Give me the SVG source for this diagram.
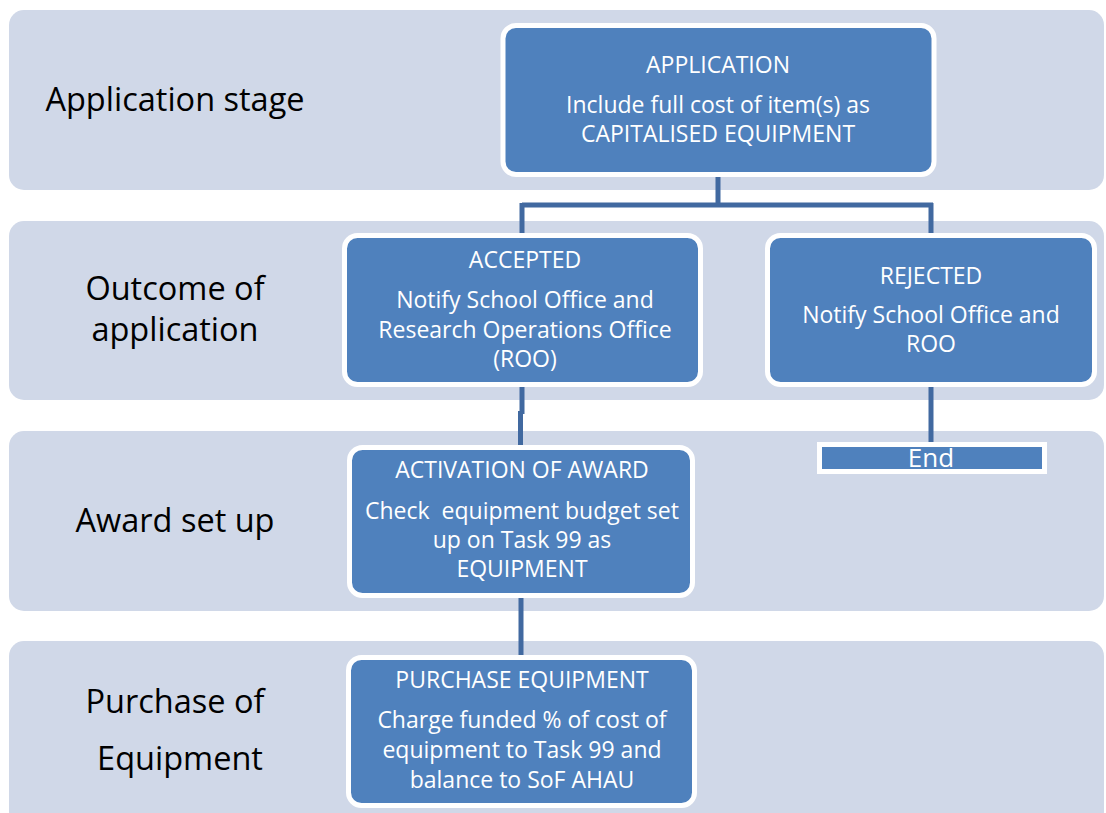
<svg xmlns="http://www.w3.org/2000/svg" width="1106" height="813" viewBox="0 0 1106 813">
<style>
.band{fill:#d0d8e8}
.lbl{font-family:"Open Sans",sans-serif;font-size:32.5px;fill:#000;text-anchor:middle}
.box{fill:#4f81bd;stroke:#fff;stroke-width:5}
.t{font-family:"Open Sans",sans-serif;font-size:23px;fill:#fff;text-anchor:middle}
.conn{fill:none;stroke:#4169a0;stroke-width:5}
</style>
<rect width="1106" height="813" fill="#fff"/>
<g id="lanes">
<rect class="band" x="9" y="10" width="1095" height="180" rx="15"/>
<rect class="band" x="9" y="221" width="1095" height="179" rx="15"/>
<rect class="band" x="9" y="431" width="1095" height="180" rx="15"/>
<rect class="band" x="9" y="641" width="1095" height="185" rx="15"/>
<text class="lbl" x="175" y="111">Application stage</text>
<text class="lbl" x="175" y="300">Outcome of</text>
<text class="lbl" x="175" y="341">application</text>
<text class="lbl" x="175" y="532">Award set up</text>
<text class="lbl" x="175" y="713">Purchase of</text>
<text class="lbl" x="180" y="770">Equipment</text>
</g>
<g id="connectors">
<path class="conn" d="M718,177 V205 M522,205 H933 M522,203 V234 M931,203 V234"/>
<path class="conn" d="M522,387 V414 M520.5,411 V446"/>
<path class="conn" d="M931,387 V443"/>
<path class="conn" d="M521,598 V656"/>
</g>
<g id="application">
<rect class="box" x="503" y="25.5" width="431" height="149" rx="13"/>
<text class="t" x="718" y="73">APPLICATION</text>
<text class="t" x="718" y="113">Include full cost of item(s) as</text>
<text class="t" x="718" y="142">CAPITALISED EQUIPMENT</text>
</g>
<g id="accepted">
<rect class="box" x="344.5" y="235.5" width="356" height="149" rx="13"/>
<text class="t" x="525" y="268">ACCEPTED</text>
<text class="t" x="525" y="308">Notify School Office and</text>
<text class="t" x="525" y="338">Research Operations Office</text>
<text class="t" x="525" y="367">(ROO)</text>
</g>
<g id="rejected">
<rect class="box" x="767.5" y="235.5" width="327" height="149" rx="13"/>
<text class="t" x="931" y="284">REJECTED</text>
<text class="t" x="931" y="323">Notify School Office and</text>
<text class="t" x="931" y="352">ROO</text>
</g>
<g id="end">
<rect class="box" x="819.5" y="444.5" width="225" height="27"/>
<text class="t" x="931" y="467" style="font-size:26px">End</text>
</g>
<g id="activation">
<rect class="box" x="349.5" y="447.5" width="343" height="148" rx="13"/>
<text class="t" x="522" y="478">ACTIVATION OF AWARD</text>
<text class="t" x="522" y="519" xml:space="preserve">Check  equipment budget set</text>
<text class="t" x="522" y="548">up on Task 99 as</text>
<text class="t" x="522" y="577">EQUIPMENT</text>
</g>
<g id="purchase">
<rect class="box" x="348.5" y="657.5" width="346" height="148" rx="13"/>
<text class="t" x="522" y="688">PURCHASE EQUIPMENT</text>
<text class="t" x="522" y="728">Charge funded % of cost of</text>
<text class="t" x="522" y="758">equipment to Task 99 and</text>
<text class="t" x="522" y="788">balance to SoF AHAU</text>
</g>
</svg>
